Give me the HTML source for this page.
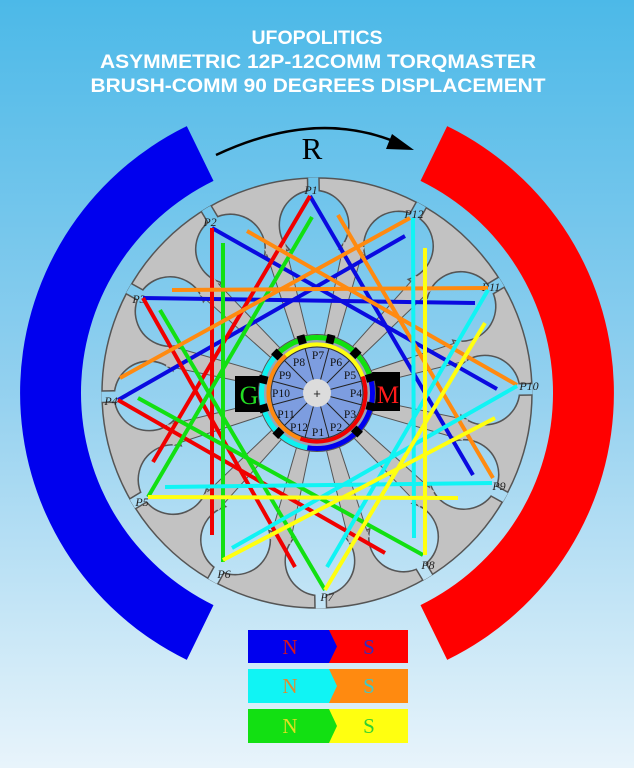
<!DOCTYPE html>
<html><head><meta charset="utf-8"><style>
html,body{margin:0;padding:0;width:634px;height:768px;overflow:hidden}
svg{display:block}
</style></head><body>
<svg width="634" height="768" viewBox="0 0 634 768" xmlns="http://www.w3.org/2000/svg">
<defs>
<linearGradient id="bg" gradientUnits="userSpaceOnUse" x1="0" y1="0" x2="0" y2="768">
<stop offset="0" stop-color="#4cb9e8"/><stop offset="0.5" stop-color="#92d0ef"/><stop offset="1" stop-color="#e8f4fb"/>
</linearGradient>
<g id="hole"><circle cx="317" cy="225" r="34"/><rect x="312" y="170" width="10" height="32"/></g>
<g id="holes">
<use href="#hole" transform="rotate(-1 317 393)"/><use href="#hole" transform="rotate(-31 317 393)"/>
<use href="#hole" transform="rotate(-61 317 393)"/><use href="#hole" transform="rotate(-91 317 393)"/>
<use href="#hole" transform="rotate(-121 317 393)"/><use href="#hole" transform="rotate(-151 317 393)"/>
<use href="#hole" transform="rotate(-181 317 393)"/><use href="#hole" transform="rotate(-211 317 393)"/>
<use href="#hole" transform="rotate(-241 317 393)"/><use href="#hole" transform="rotate(-271 317 393)"/>
<use href="#hole" transform="rotate(-301 317 393)"/><use href="#hole" transform="rotate(-331 317 393)"/>
<circle cx="317" cy="393" r="145"/>
</g>
<g id="spk">
<polygon points="311,353 323,353 327,246 307,246" fill="#c2c2c2" stroke="#555" stroke-width="1"/>
<polygon points="307.9,249 326.1,249 328,240 306,240" fill="#c2c2c2"/>
</g>
<mask id="mThick" maskUnits="userSpaceOnUse" x="0" y="0" width="634" height="768">
<g fill="#fff" stroke="#fff" stroke-width="3"><use href="#holes"/></g>
</mask>
<mask id="mThin" maskUnits="userSpaceOnUse" x="0" y="0" width="634" height="768">
<g fill="#fff"><use href="#holes"/></g>
</mask>
<clipPath id="rc"><circle cx="317" cy="393" r="215.5"/></clipPath>
<rect id="mark" x="313" y="333" width="8" height="9"/>
<line id="seg" x1="317" y1="379" x2="317" y2="347"/>
</defs>

<rect width="634" height="768" fill="url(#bg)"/>

<g font-family="Liberation Sans, sans-serif" font-weight="bold" font-size="19.5" fill="#fff" text-anchor="middle">
<text x="317" y="44">UFOPOLITICS</text>
<text x="318" y="68" textLength="436" lengthAdjust="spacingAndGlyphs">ASYMMETRIC 12P-12COMM TORQMASTER</text>
<text x="318" y="92" textLength="455" lengthAdjust="spacingAndGlyphs">BRUSH-COMM 90 DEGREES DISPLACEMENT</text>
</g>

<path d="M186.8,126.1 A297 297 0 0 0 186.8,659.9 L213.5,605.1 A236 236 0 0 1 213.5,180.9 Z" fill="#0000ee"/>
<path d="M447.2,126.1 A297 297 0 0 1 447.2,659.9 L420.5,605.1 A236 236 0 0 0 420.5,180.9 Z" fill="#ff0000"/>

<path d="M216,155 Q316,108 398,143" fill="none" stroke="#000" stroke-width="2.5"/>
<polygon points="414,150 392,134 386,149" fill="#000"/>
<text x="312" y="159" font-family="Liberation Serif, serif" font-size="31" text-anchor="middle" fill="#000">R</text>

<circle cx="317" cy="393" r="215" fill="#c2c2c2" stroke="#555" stroke-width="1.5"/>
<g clip-path="url(#rc)">
<rect width="634" height="768" fill="#555" mask="url(#mThick)"/>
<rect width="634" height="768" fill="url(#bg)" mask="url(#mThin)"/>
</g>
<g>
<use href="#spk" transform="rotate(14 317 393)"/><use href="#spk" transform="rotate(-16 317 393)"/>
<use href="#spk" transform="rotate(-46 317 393)"/><use href="#spk" transform="rotate(-76 317 393)"/>
<use href="#spk" transform="rotate(-106 317 393)"/><use href="#spk" transform="rotate(-136 317 393)"/>
<use href="#spk" transform="rotate(-166 317 393)"/><use href="#spk" transform="rotate(-196 317 393)"/>
<use href="#spk" transform="rotate(-226 317 393)"/><use href="#spk" transform="rotate(-256 317 393)"/>
<use href="#spk" transform="rotate(-286 317 393)"/><use href="#spk" transform="rotate(-316 317 393)"/>
</g>

<g font-family="Liberation Serif, serif" font-style="italic" font-size="12" fill="#222" text-anchor="middle">
<text x="311" y="194">P1</text><text x="210" y="226">P2</text><text x="139" y="303">P3</text>
<text x="111" y="405">P4</text><text x="142" y="506">P5</text><text x="224" y="578">P6</text>
<text x="327" y="601">P7</text><text x="428" y="569">P8</text><text x="499" y="490">P9</text>
<text x="529" y="390">P10</text><text x="491" y="291">P11</text><text x="414" y="218">P12</text>
</g>

<g stroke-width="4" stroke-linecap="butt" fill="none">
<g stroke="#0a0ae0">
<line x1="310" y1="196" x2="473" y2="475"/><line x1="212" y1="228" x2="497" y2="389"/>
<line x1="143" y1="298" x2="475" y2="303"/><line x1="118" y1="400" x2="405" y2="236"/>
</g>
<g stroke="#f00000">
<line x1="310" y1="196" x2="153" y2="462"/><line x1="212" y1="228" x2="212" y2="535"/>
<line x1="143" y1="298" x2="295" y2="567"/><line x1="118" y1="400" x2="385" y2="553"/>
</g>
<g stroke="#12e012">
<line x1="325" y1="590" x2="160" y2="310"/><line x1="423" y1="555" x2="138" y2="398"/>
<line x1="148" y1="497" x2="312" y2="217"/><line x1="223" y1="562" x2="223" y2="243"/>
</g>
<g stroke="#ff8a10">
<line x1="410" y1="218" x2="120" y2="378"/><line x1="488" y1="288" x2="172" y2="290"/>
<line x1="517" y1="385" x2="247" y2="231"/><line x1="493" y1="478" x2="338" y2="215"/>
</g>
<g stroke="#10f4f4">
<line x1="413" y1="218" x2="414" y2="538"/><line x1="488" y1="290" x2="327" y2="567"/>
<line x1="517" y1="386" x2="232" y2="548"/><line x1="492" y1="483" x2="165" y2="487"/>
</g>
<g stroke="#ffff10">
<line x1="425" y1="555" x2="425" y2="248"/><line x1="325" y1="590" x2="485" y2="323"/>
<line x1="223" y1="560" x2="495" y2="418"/><line x1="148" y1="497" x2="458" y2="498"/>
</g>
</g>

<path d="M235,376 H262 L273,380 V408 L262,412 H235 Z" fill="#000"/>
<path d="M372,372 H400 V411 H372 Z" fill="#000"/>

<circle cx="317" cy="393" r="58.5" fill="#9aa4b4" stroke="#555" stroke-width="1"/>
<g fill="none" stroke-width="5">
<path d="M277.8,353.8 A55.5 55.5 0 0 1 370.6,378.6" stroke="#10e010"/>
<path d="M307.4,447.7 A55.5 55.5 0 0 1 277.8,353.8" stroke="#10f0f0"/>
<path d="M370.6,378.6 A55.5 55.5 0 0 1 307.4,447.7" stroke="#0000ee"/>
</g>
<g fill="none" stroke-width="4">
<path d="M285.8,355.8 A48.5 48.5 0 0 1 362.6,376.4" stroke="#ffff10"/>
<path d="M300.4,438.6 A48.5 48.5 0 0 1 285.8,355.8" stroke="#ff8a10"/>
<path d="M362.6,376.4 A48.5 48.5 0 0 1 300.4,438.6" stroke="#f00000"/>
</g>
<circle cx="317" cy="393" r="46" fill="#7d9de0" stroke="#333" stroke-width="1"/>
<g stroke="#222" stroke-width="1">
<use href="#seg" transform="rotate(15 317 393)"/><use href="#seg" transform="rotate(45 317 393)"/>
<use href="#seg" transform="rotate(75 317 393)"/><use href="#seg" transform="rotate(105 317 393)"/>
<use href="#seg" transform="rotate(135 317 393)"/><use href="#seg" transform="rotate(165 317 393)"/>
<use href="#seg" transform="rotate(195 317 393)"/><use href="#seg" transform="rotate(225 317 393)"/>
<use href="#seg" transform="rotate(255 317 393)"/><use href="#seg" transform="rotate(285 317 393)"/>
<use href="#seg" transform="rotate(315 317 393)"/><use href="#seg" transform="rotate(345 317 393)"/>
</g>
<g fill="#000">
<use href="#mark" transform="rotate(-16 317 393)"/><use href="#mark" transform="rotate(14 317 393)"/>
<use href="#mark" transform="rotate(-46 317 393)"/><use href="#mark" transform="rotate(-76 317 393)"/>
<use href="#mark" transform="rotate(-106 317 393)"/><use href="#mark" transform="rotate(-136 317 393)"/>
<use href="#mark" transform="rotate(-226 317 393)"/><use href="#mark" transform="rotate(-256 317 393)"/>
<use href="#mark" transform="rotate(-286 317 393)"/><use href="#mark" transform="rotate(-316 317 393)"/>
</g>
<circle cx="317" cy="393" r="14" fill="#dcdcdc"/>
<text x="317" y="398" font-family="Liberation Sans, sans-serif" font-size="13" text-anchor="middle" fill="#222">+</text>
<g font-family="Liberation Serif, serif" font-size="11.5" fill="#111" text-anchor="middle">
<text x="318" y="436">P1</text><text x="336" y="431">P2</text><text x="350" y="418">P3</text>
<text x="356" y="397">P4</text><text x="350" y="379">P5</text><text x="336" y="366">P6</text>
<text x="318" y="359">P7</text><text x="299" y="366">P8</text><text x="285" y="379">P9</text>
<text x="281" y="397">P10</text><text x="286" y="418">P11</text><text x="299" y="431">P12</text>
</g>
<text x="249" y="404" font-family="Liberation Serif, serif" font-size="26" fill="#22dd22" text-anchor="middle">G</text>
<text x="388" y="403" font-family="Liberation Serif, serif" font-size="25" fill="#ff1a1a" text-anchor="middle">M</text>

<g font-family="Liberation Serif, serif" font-size="21" text-anchor="middle">
<rect x="248" y="630" width="160" height="33" fill="#ff0000"/>
<polygon points="248,630 329,630 337,646.5 329,663 248,663" fill="#0000ee"/>
<text x="290" y="654" fill="#d81818">N</text><text x="369" y="654" fill="#3030c0">S</text>
<rect x="248" y="669" width="160" height="34" fill="#ff8a10"/>
<polygon points="248,669 329,669 337,686 329,703 248,703" fill="#10f4f4"/>
<text x="290" y="693" fill="#e08a30">N</text><text x="369" y="693" fill="#40c8c8">S</text>
<rect x="248" y="709" width="160" height="34" fill="#ffff10"/>
<polygon points="248,709 329,709 337,726 329,743 248,743" fill="#12e012"/>
<text x="290" y="733" fill="#e0e020">N</text><text x="369" y="733" fill="#30d030">S</text>
</g>
</svg>
</body></html>
